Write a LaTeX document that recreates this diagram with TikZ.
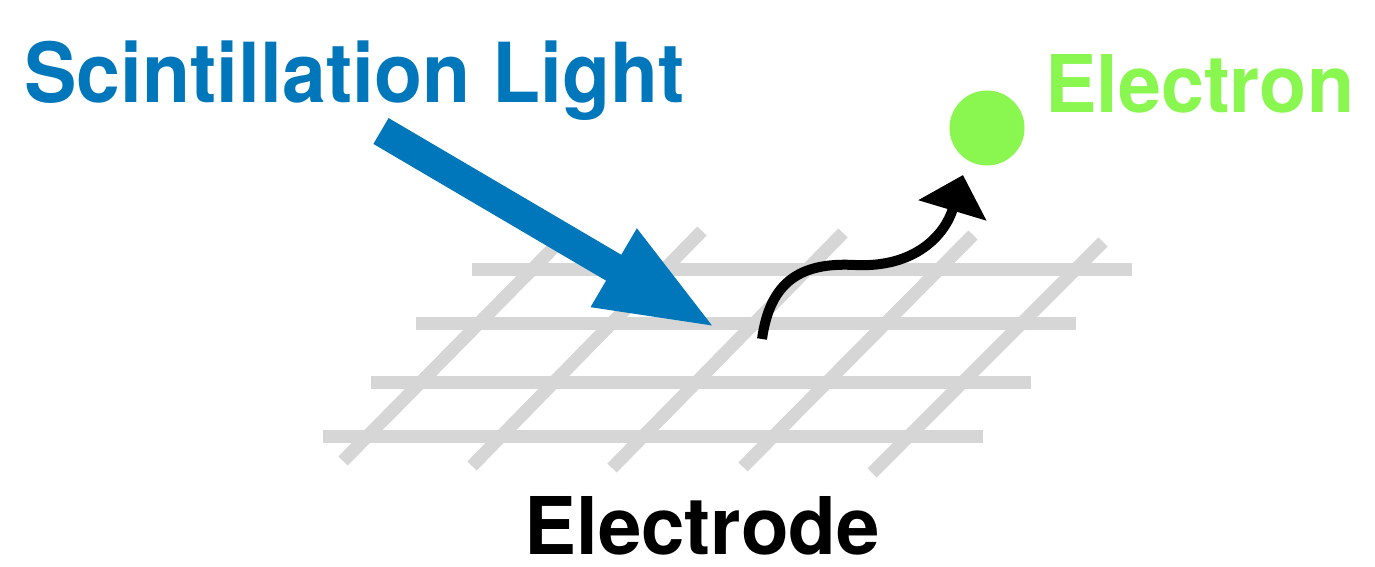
\documentclass[tikz,border=0pt]{standalone}
\usepackage{fontspec}
\setmainfont{TeX Gyre Heros}
\usetikzlibrary{arrows.meta}
\definecolor{gridgray}{RGB}{214,214,214}
\definecolor{lightblue}{RGB}{0,118,187}
\definecolor{elgreen}{RGB}{138,247,80}
\tikzset{
  wire/.style={draw=gridgray, line width=6.5pt, line cap=butt},
  label/.style={inner sep=0pt, anchor=base west, font=\bfseries},
}
\begin{document}
\begin{tikzpicture}[x=0.5pt, y=-0.5pt]
\useasboundingbox (0,0) rectangle (1375,567);
% horizontal wires
\draw[wire] (472,269) -- (1132,269);
\draw[wire] (416,323) -- (1076,323);
\draw[wire] (371,382) -- (1031,382);
\draw[wire] (323,436) -- (983,436);
% diagonal wires
\draw[wire] (343,461) -- (572,229);
\draw[wire] (472,466) -- (702,231);
\draw[wire] (612,468) -- (843,233);
\draw[wire] (743,467) -- (973,235);
\draw[wire] (872,473) -- (1103,242);
% texts
\node[label, text=lightblue, font=\bfseries\fontsize{41.4pt}{48pt}\selectfont] (sl) at (24,102.5) {\scalebox{0.95}[1]{Scintillation Light}};
\node[label, text=elgreen, font=\bfseries\fontsize{39.8pt}{46pt}\selectfont] (el) at (1045,112.5) {\scalebox{0.97}[1]{Electron}};
\node[label, text=black, font=\bfseries\fontsize{39.8pt}{46pt}\selectfont] (ed) at (524,554) {\scalebox{0.98}[1]{Electrode}};
% electron
\node[circle, fill=elgreen, inner sep=0pt, minimum size=37.5pt] (e) at (987,128) {};
% light arrow
\coordinate (ls) at (381,131);
\coordinate (lt) at (718,329);
\draw[lightblue, line width=15pt, -{Triangle[length=60.5pt, width=40.5pt]}] (ls) -- (lt);
% electron emission arrow
\coordinate (es) at (762,339);
\coordinate (em) at (855,265);
\coordinate (et) at (963,175);
\draw[black, line width=5pt, -{Triangle[length=18.5pt, width=34.5pt]}] (es) .. controls (770,282) and (800,262) .. (em) .. controls (915,268) and (945,235) .. (et);
\end{tikzpicture}
\end{document}
